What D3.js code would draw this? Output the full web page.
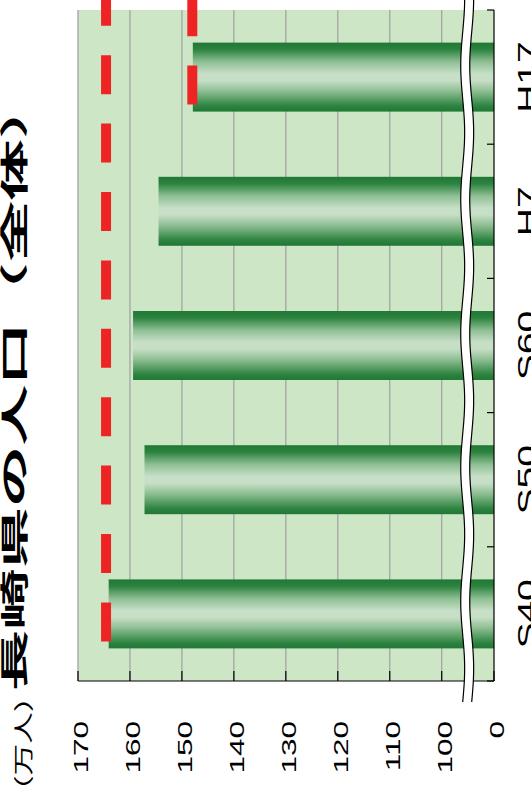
<!DOCTYPE html>
<html>
<head>
<meta charset="utf-8">
<script src="https://cdn.jsdelivr.net/npm/d3@7"></script>
<style>
body { margin: 0; background: #fff; }
svg { display: block; }
</style>
</head>
<body>
<svg></svg>
<script>
var categories = ["S40", "S50", "S60", "H7", "H17"];
var population = [164.1, 157.2, 159.4, 154.5, 147.9];
var tickValues = [0, 100, 110, 120, 130, 140, 150, 160, 170];
var refCategories = ["S40", "H17"];
var refValues = [164.6, 148.0];
var titleText = "長崎県の人口（全体）";
var unitText = "（万人）";

var W = 531, H = 798;
var LATIN = "'Liberation Sans', Arial, sans-serif";
var CJK = "'Noto Sans CJK JP', 'Noto Sans CJK SC', sans-serif";

var svg = d3.select("svg")
    .attr("width", W)
    .attr("height", H);

// the chart is laid out upright (798 wide, 531 tall) and then turned a quarter left
var chart = svg.append("g")
    .attr("transform", "translate(0," + H + ") rotate(-90)");

var plotLeft = 117, plotRight = 788;

var x = d3.scaleBand()
    .domain(categories)
    .range([plotLeft, plotRight])
    .paddingInner(0.486)
    .paddingOuter(0.243);

// broken value axis: 0..100 squeezed into the small strip under the break
var y = d3.scaleLinear()
    .domain([0, 100, 170])
    .range([494, 441.7, 78]);

var defs = svg.append("defs");
var grad = defs.append("linearGradient")
    .attr("id", "barGrad")
    .attr("x1", 0).attr("y1", 0)
    .attr("x2", 1).attr("y2", 0);
[[0, "#1f7833"], [0.08, "#2d8340"], [0.3, "#8fbf94"], [0.45, "#c6dfc6"],
 [0.55, "#c6dfc6"], [0.72, "#8fbf94"], [0.9, "#2d8340"], [1, "#1f7833"]]
    .forEach(function(s)
    {
        grad.append("stop").attr("offset", s[0]).attr("stop-color", s[1]);
    });

// plot background
chart.append("rect")
    .attr("x", plotLeft)
    .attr("y", y(170))
    .attr("width", plotRight - plotLeft)
    .attr("height", y(0) - y(170))
    .attr("fill", "#cde6c6");

// grid
chart.append("g")
    .selectAll("line")
    .data(tickValues.filter(function(d) { return d >= 100; }))
    .enter().append("line")
    .attr("x1", plotLeft)
    .attr("x2", plotRight)
    .attr("y1", function(d) { return y(d); })
    .attr("y2", function(d) { return y(d); })
    .attr("stroke", "#a4a4a4")
    .attr("stroke-width", 1.3);

// bars
chart.append("g")
    .selectAll("rect")
    .data(population)
    .enter().append("rect")
    .attr("x", function(d, i) { return x(categories[i]); })
    .attr("y", function(d) { return y(d); })
    .attr("width", x.bandwidth())
    .attr("height", function(d) { return y(0) - y(d); })
    .attr("fill", "url(#barGrad)");

// red dashed reference levels
chart.append("g")
    .selectAll("line")
    .data(refValues)
    .enter().append("line")
    .attr("x1", function(d, i) { return x(refCategories[i]) + 7; })
    .attr("x2", H + 40)
    .attr("y1", function(d) { return y(d); })
    .attr("y2", function(d) { return y(d); })
    .attr("stroke", "#ee2424")
    .attr("stroke-width", 10)
    .attr("stroke-dasharray", "39,29.4");

// axes
chart.append("line")
    .attr("x1", plotLeft).attr("x2", plotLeft)
    .attr("y1", y(170)).attr("y2", y(0))
    .attr("stroke", "#000").attr("stroke-width", 1.2);

chart.append("line")
    .attr("x1", plotLeft).attr("x2", plotRight)
    .attr("y1", y(0)).attr("y2", y(0))
    .attr("stroke", "#000").attr("stroke-width", 1.2);

chart.append("g")
    .selectAll("line")
    .data(tickValues)
    .enter().append("line")
    .attr("x1", plotLeft)
    .attr("x2", plotLeft + 10)
    .attr("y1", function(d) { return y(d); })
    .attr("y2", function(d) { return y(d); })
    .attr("stroke", "#000")
    .attr("stroke-width", 1.2);

var bounds = d3.range(categories.length + 1).map(function(i) { return plotLeft + i * x.step(); });
chart.append("g")
    .selectAll("line")
    .data(bounds)
    .enter().append("line")
    .attr("x1", function(d) { return d; })
    .attr("x2", function(d) { return d; })
    .attr("y1", y(0))
    .attr("y2", y(0) - 7)
    .attr("stroke", "#000")
    .attr("stroke-width", 1.2);

// axis break
var breakA = y(0) - 31.3, breakB = y(0) - 22.3;
var xs = d3.range(96, H + 40, 8);
function wave(base)
{
    return xs.map(function(px) { return [px, base + 2 * Math.sin((px - 96) / 134 * 2 * Math.PI)]; });
}
var lineA = wave(breakA), lineB = wave(breakB);
var waveLine = d3.line().curve(d3.curveBasis);

chart.append("path")
    .attr("d", waveLine(lineA.concat(lineB.slice().reverse())) + "Z")
    .attr("fill", "#fff");

chart.append("g")
    .selectAll("path")
    .data([lineA, lineB])
    .enter().append("path")
    .attr("d", waveLine)
    .attr("fill", "none")
    .attr("stroke", "#000")
    .attr("stroke-width", 1.2);

// value labels
chart.append("g")
    .selectAll("text")
    .data(tickValues)
    .enter().append("text")
    .attr("transform", function(d) { return "translate(77," + (y(d) + 10) + ") scale(1.5,1)"; })
    .attr("text-anchor", "end")
    .attr("font-family", LATIN)
    .attr("font-size", 21)
    .attr("fill", "#000")
    .text(function(d) { return d; });

// category labels
chart.append("g")
    .selectAll("text")
    .data(categories)
    .enter().append("text")
    .attr("transform", function(d) { return "translate(" + (x(d) + x.bandwidth() / 2) + ",535.6) scale(1.5,1)"; })
    .attr("text-anchor", "middle")
    .attr("font-family", LATIN)
    .attr("font-size", 26)
    .attr("fill", "#000")
    .text(function(d) { return d; });

// title and unit
chart.append("text")
    .attr("transform", "translate(107,25) scale(2.19,1)")
    .attr("font-family", CJK)
    .attr("font-weight", "bold")
    .attr("font-size", 28)
    .attr("fill", "#000")
    .text(titleText);

chart.append("text")
    .attr("transform", "translate(-9,30.5) scale(1.58,1)")
    .attr("font-family", CJK)
    .attr("font-size", 20)
    .attr("fill", "#000")
    .text(unitText);
</script>
</body>
</html>
